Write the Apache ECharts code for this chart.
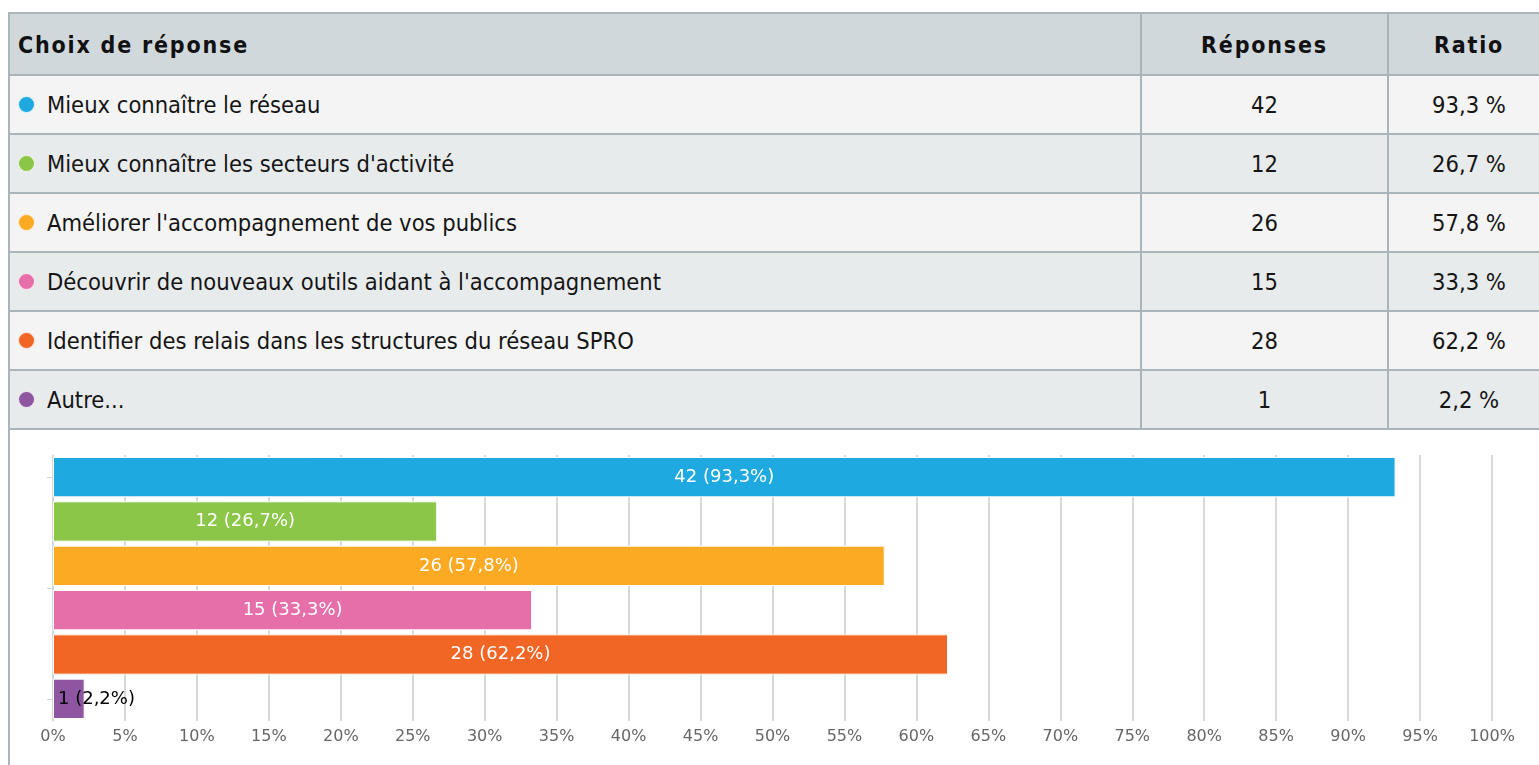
<!DOCTYPE html>
<html lang="fr">
<head>
<meta charset="utf-8">
<title>Choix de réponse</title>
<script src="https://cdn.jsdelivr.net/npm/echarts@6/dist/echarts.min.js"></script>
<style>
  html, body { margin: 0; padding: 0; background: #fff; overflow: hidden; }
  body { width: 1539px; height: 765px; position: relative; }
  #frame {
    position: absolute; left: 8px; top: 12px; width: 1545px; bottom: 0;
    border-left: 2px solid #a9b5bb; border-top: 2px solid #a9b5bb;
  }
  .row { display: flex; box-sizing: border-box; height: 59px; border-bottom: 2px solid #a9b5bb; }
  .row.head { height: 62px; background: #d0d8dc; }
  .row.odd { background: #f4f4f4; }
  .row.even { background: #e8ebec; }
  .cell {
    box-sizing: border-box; display: flex; align-items: center;
    font-family: "Liberation Sans Narrow", "DejaVu Sans Condensed", "Noto Sans", sans-serif;
    font-stretch: condensed; font-size: 23.5px; color: #151515;
  }
  .c1 { width: 1132px; padding-left: 8px; border-right: 2px solid #a9b5bb; }
  .c2 { width: 247px; justify-content: center; border-right: 2px solid #a9b5bb; }
  .c3 { width: 160px; justify-content: center; }
  .head .cell { font-weight: bold; font-size: 23px; letter-spacing: 1.8px; color: #111; padding-top: 2px; }
  .dot {
    width: 15px; height: 15px; border-radius: 50%; margin-right: 12px;
    border: 1px solid rgba(255,255,255,0.8); flex: none;
  }
  #chart { position: absolute; left: 0; top: 430px; width: 1539px; height: 335px; }
</style>
</head>
<body>
<div id="frame"><div id="table"></div></div>
<div id="chart"></div>
<script>
// Survey answers, response counts and ratios (%)
const headers = ['Choix de réponse', 'Réponses', 'Ratio'];
const categories = [
  'Mieux connaître le réseau',
  'Mieux connaître les secteurs d\'activité',
  'Améliorer l\'accompagnement de vos publics',
  'Découvrir de nouveaux outils aidant à l\'accompagnement',
  'Identifier des relais dans les structures du réseau SPRO',
  'Autre...'
];
const counts = [42, 12, 26, 15, 28, 1];
const ratios = [93.3, 26.7, 57.8, 33.3, 62.2, 2.2];
const colors = ['#1fa9e1', '#8bc648', '#fca923', '#e66faa', '#f16625', '#8e55a0'];
const xTicks = { min: 0, max: 100, interval: 5 };

const fr = v => String(v).replace('.', ',');

// Summary table
const table = document.getElementById('table');
let html = '<div class="row head"><div class="cell c1">' + headers[0] +
  '</div><div class="cell c2">' + headers[1] + '</div><div class="cell c3">' + headers[2] + '</div></div>';
categories.forEach((c, i) => {
  html += '<div class="row ' + (i % 2 ? 'even' : 'odd') + '">' +
    '<div class="cell c1"><span class="dot" style="background:' + colors[i] + '"></span>' + c + '</div>' +
    '<div class="cell c2">' + counts[i] + '</div>' +
    '<div class="cell c3">' + fr(ratios[i]) + ' %</div></div>';
});
table.innerHTML = html;

// Horizontal bar chart
const chart = echarts.init(document.getElementById('chart'), null, { renderer: 'canvas' });
const font = 'DejaVu Sans, Verdana, sans-serif';
chart.setOption({
  animation: false,
  grid: { left: 53, right: 47, top: 25, bottom: 44 },
  xAxis: {
    type: 'value', min: xTicks.min, max: xTicks.max, interval: xTicks.interval,
    axisLine: { show: false }, axisTick: { show: false },
    axisLabel: { formatter: '{value}%', color: '#666', fontSize: 16, fontFamily: font, margin: 8 },
    splitLine: { show: true, lineStyle: { color: '#cccccc', width: 1.5 } }
  },
  yAxis: [{
    type: 'category', inverse: true, data: categories,
    axisLabel: { show: false }, axisTick: { show: false },
    axisLine: { show: true, lineStyle: { color: '#ccd6eb', width: 1 } }
  }, {
    type: 'value', inverse: true, min: -0.5, max: 5.5, position: 'left',
    axisLine: { show: false }, axisLabel: { show: false }, splitLine: { show: false },
    axisTick: { show: true, length: 6, customValues: [0, 2.5, 5], lineStyle: { color: '#ccd6eb' } }
  }],
  series: [{
    type: 'bar', yAxisIndex: 0, barCategoryGap: '9%',
    data: ratios.map((r, i) => ({
      value: r,
      itemStyle: { color: colors[i], borderColor: '#ffffff', borderWidth: 1 },
      label: r < 5 ? { position: 'insideLeft', color: '#000', distance: 5 } : undefined
    })),
    label: {
      show: true, position: 'inside', color: '#fff', fontSize: 18, fontFamily: font,
      formatter: p => counts[p.dataIndex] + ' (' + fr(ratios[p.dataIndex]) + '%)'
    }
  }]
});
</script>
</body>
</html>
